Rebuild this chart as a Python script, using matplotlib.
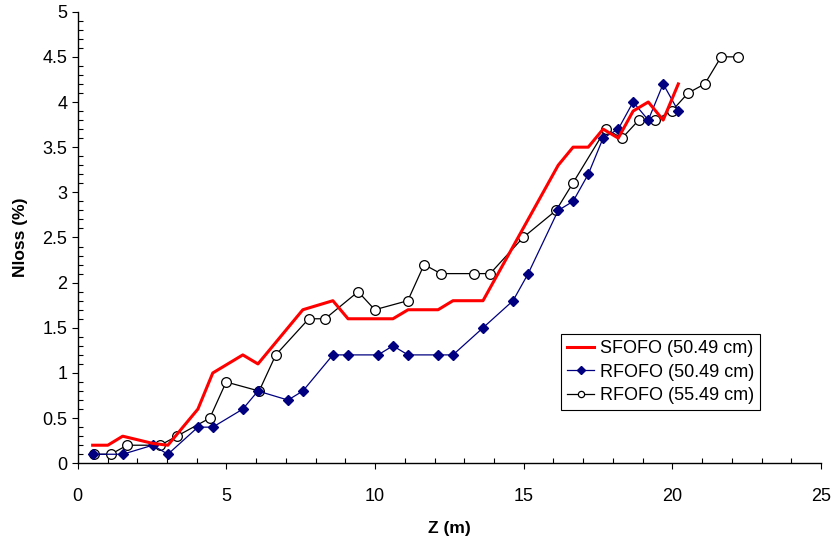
import matplotlib
matplotlib.use("Agg")
import matplotlib.pyplot as plt
from matplotlib.ticker import MultipleLocator, FuncFormatter

plt.rcParams['font.family'] = ['Liberation Sans', 'DejaVu Sans']

# SFOFO (50.49 cm)
sf_z = [0.50, 1.01, 1.51, 2.52, 3.03, 4.04, 4.54, 5.55, 6.06, 7.57, 8.58, 9.09,
        10.60, 11.11, 12.12, 12.62, 13.63, 16.16, 16.66, 17.17, 17.67, 18.18,
        18.68, 19.19, 19.69, 20.20]
sf_n = [0.2, 0.2, 0.3, 0.22, 0.2, 0.6, 1.0, 1.2, 1.1, 1.7, 1.8, 1.6,
        1.6, 1.7, 1.7, 1.8, 1.8, 3.3, 3.5, 3.5, 3.7, 3.6,
        3.9, 4.0, 3.8, 4.2]

# RFOFO (50.49 cm)
r1_z = [0.50, 1.51, 2.52, 3.03, 4.04, 4.54, 5.55, 6.06, 7.07, 7.57, 8.58, 9.09,
        10.10, 10.60, 11.11, 12.12, 12.62, 13.63, 14.64, 15.15, 16.16, 16.66,
        17.17, 17.67, 18.18, 18.68, 19.19, 19.69, 20.20]
r1_n = [0.1, 0.1, 0.2, 0.1, 0.4, 0.4, 0.6, 0.8, 0.7, 0.8, 1.2, 1.2,
        1.2, 1.3, 1.2, 1.2, 1.2, 1.5, 1.8, 2.1, 2.8, 2.9,
        3.2, 3.6, 3.7, 4.0, 3.8, 4.2, 3.9]

# RFOFO (55.49 cm)
r2_z = [0.55, 1.11, 1.66, 2.77, 3.33, 4.44, 4.99, 6.10, 6.66, 7.77, 8.32, 9.43,
        9.99, 11.10, 11.65, 12.21, 13.32, 13.87, 14.98, 16.09, 16.65, 17.76,
        18.31, 18.87, 19.42, 19.98, 20.53, 21.09, 21.64, 22.20]
r2_n = [0.1, 0.1, 0.2, 0.2, 0.3, 0.5, 0.9, 0.8, 1.2, 1.6, 1.6, 1.9,
        1.7, 1.8, 2.2, 2.1, 2.1, 2.1, 2.5, 2.8, 3.1, 3.7,
        3.6, 3.8, 3.8, 3.9, 4.1, 4.2, 4.5, 4.5]

labels = ['SFOFO (50.49 cm)', 'RFOFO (50.49 cm)', 'RFOFO (55.49 cm)']

fig = plt.figure(figsize=(8.33, 5.46), dpi=100)
ax = fig.add_axes([0.0934, 0.1515, 0.8922, 0.8271])

l0, = ax.plot(sf_z, sf_n, color='#FF0000', lw=2.2, zorder=4, label=labels[0])
l1, = ax.plot(r1_z, r1_n, color='#000080', lw=0.9, marker='D', ms=5.5,
              mfc='#000080', mec='#000080', zorder=3, label=labels[1])
l2, = ax.plot(r2_z, r2_n, color='black', lw=0.9, marker='o', ms=7,
              mfc='white', mec='black', mew=0.9, zorder=2, label=labels[2])

ax.set_xlim(0, 25)
ax.set_ylim(0, 5)
ax.xaxis.set_major_locator(MultipleLocator(5))
ax.xaxis.set_minor_locator(MultipleLocator(1))
ax.yaxis.set_major_locator(MultipleLocator(0.5))
ax.yaxis.set_minor_locator(MultipleLocator(0.1))
ax.yaxis.set_major_formatter(FuncFormatter(lambda v, p: '%g' % v))
ax.xaxis.set_major_formatter(FuncFormatter(lambda v, p: '%g' % v))

for s in ['top', 'right']:
    ax.spines[s].set_visible(False)
for s in ['left', 'bottom']:
    ax.spines[s].set_linewidth(1.0)
    ax.spines[s].set_color('black')

ax.tick_params(which='major', direction='out', length=4.5, width=0.8,
               labelsize=13, pad=3)
ax.tick_params(which='minor', direction='in', length=3.5, width=0.8)
ax.tick_params(axis='x', which='major', pad=13)

ax.set_xlabel('Z (m)', fontsize=12.5, fontweight='bold', labelpad=12)
ax.set_ylabel('Nloss (%)', fontsize=12.5, fontweight='bold', labelpad=10)

leg = ax.legend(handles=[l0, l1, l2], loc='upper left',
                bbox_to_anchor=(0.65, 0.286), fontsize=13, frameon=True,
                fancybox=False, edgecolor='black', framealpha=1,
                borderpad=0.35, labelspacing=0.35, handlelength=1.5,
                handletextpad=0.3, borderaxespad=0)
leg.get_frame().set_linewidth(0.8)
for h in leg.legend_handles:
    h.set_markersize(4.5)

fig.savefig('out.png', dpi=100)
